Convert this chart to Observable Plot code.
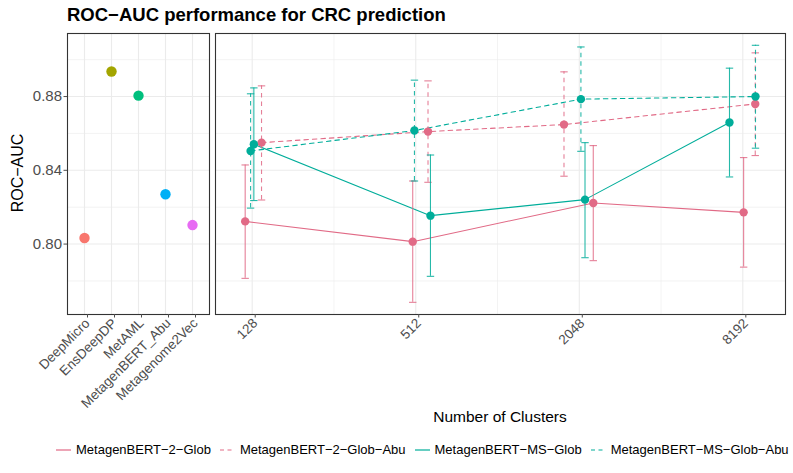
<!DOCTYPE html>
<html>
<head>
<meta charset="utf-8">
<script src="https://cdn.jsdelivr.net/npm/d3@7"></script>
<script src="https://cdn.jsdelivr.net/npm/@observablehq/plot@0.6"></script>
<style>
  html, body { margin: 0; padding: 0; background: #fff; }
  #wrap { position: relative; width: 793px; height: 473px; overflow: hidden; background: #fff;
          font-family: "Liberation Sans", Arial, Helvetica, sans-serif; }
  #title { position: absolute; left: 67px; top: 4px; font-weight: bold; font-size: 18.5px; color: #000; white-space: nowrap; }
  #ytitle { position: absolute; left: 18px; top: 173px; font-size: 16px; color: #000; white-space: nowrap;
            transform: translate(-50%, -50%) rotate(-90deg); }
  #xtitle { position: absolute; left: 500px; top: 417px; font-size: 15.5px; color: #000; white-space: nowrap;
            transform: translate(-50%, -50%); }
  #left { position: absolute; left: 0; top: 0; }
  #right { position: absolute; left: 212px; top: 0; }
  #legend { position: absolute; left: 55px; top: 442px; display: flex; align-items: center; white-space: nowrap;
            font-size: 13px; color: #000; }
  .item { display: flex; align-items: center; margin-right: 8px; }
  .item span { margin-left: 4px; }
</style>
</head>
<body>
<div id="wrap">
  <div id="title">ROC−AUC performance for CRC prediction</div>
  <div id="left"></div>
  <div id="right"></div>
  <div id="ytitle">ROC−AUC</div>
  <div id="xtitle">Number of Clusters</div>
  <div id="legend"></div>
</div>
<script>
// ---- Data ----
const methods = ["DeepMicro", "EnsDeepDP", "MetAML", "MetagenBERT_Abu", "Metagenome2Vec"];
const methodAuc = [0.8033, 0.8936, 0.8805, 0.827, 0.8103];

const clusters = [128, 512, 2048, 8192];
const seriesNames = ["MetagenBERT−2−Glob", "MetagenBERT−2−Glob−Abu", "MetagenBERT−MS−Glob", "MetagenBERT−MS−Glob−Abu"];

const auc2Glob   = [0.8123, 0.8013, 0.8223, 0.8172];
const lo2Glob    = [0.7814, 0.7684, 0.7910, 0.7875];
const hi2Glob    = [0.8429, 0.8342, 0.8534, 0.8469];
const jit2Glob   = [-0.086, -0.037, 0.171, 0.010];

const auc2GlobAbu = [0.8550, 0.8610, 0.8648, 0.8760];
const lo2GlobAbu  = [0.8239, 0.8335, 0.8368, 0.8480];
const hi2GlobAbu  = [0.8858, 0.8885, 0.8934, 0.9037];
const jit2GlobAbu = [0.114, 0.150, -0.187, 0.152];

const aucMSGlob = [0.8541, 0.8154, 0.8241, 0.8659];
const loMSGlob  = [0.8236, 0.7825, 0.7926, 0.8364];
const hiMSGlob  = [0.8847, 0.8483, 0.8550, 0.8954];
const jitMSGlob = [0.020, 0.180, 0.070, -0.163];

const aucMSGlobAbu = [0.8505, 0.8616, 0.8786, 0.8800];
const loMSGlobAbu  = [0.8195, 0.8342, 0.8503, 0.8520];
const hiMSGlobAbu  = [0.8815, 0.8889, 0.9069, 0.9078];
const jitMSGlobAbu = [-0.020, -0.016, 0.020, 0.155];

const yTicks = [0.80, 0.84, 0.88];
const yMinor = [0.78, 0.82, 0.86, 0.90];
const xMinor = [256, 1024, 4096];

// ---- Styles ----
const methodColors = ["#F8766D", "#A3A500", "#00BF7D", "#00B0F6", "#E76BF3"];
const pink = "#E16A86", teal = "#00AD9A";
const seriesStyle = [
  {color: pink, dash: null},
  {color: pink, dash: "4.5,4"},
  {color: teal, dash: null},
  {color: teal, dash: "4.5,4"}
];
const seriesData = [
  [auc2Glob, lo2Glob, hi2Glob, jit2Glob],
  [auc2GlobAbu, lo2GlobAbu, hi2GlobAbu, jit2GlobAbu],
  [aucMSGlob, loMSGlob, hiMSGlob, jitMSGlob],
  [aucMSGlobAbu, loMSGlobAbu, hiMSGlobAbu, jitMSGlobAbu]
];

const yDomain = [0.7618, 0.9142];
const font = "'Liberation Sans', Arial, Helvetica, sans-serif";
const gridCol = "#EBEBEB";
const tickCol = "#4D4D4D";

// ---- Left panel ----
const methodRows = methods.map((m, i) => ({method: m, auc: methodAuc[i]}));
const left = Plot.plot({
  width: 212, height: 410,
  marginLeft: 67, marginRight: 3, marginTop: 33, marginBottom: 96,
  style: {fontFamily: font, background: "transparent", overflow: "visible"},
  x: {type: "point", domain: methods, padding: 0.6},
  y: {domain: yDomain},
  color: {domain: methods, range: methodColors},
  marks: [
    Plot.ruleY(yMinor, {stroke: gridCol, strokeWidth: 0.6}),
    Plot.gridY(yTicks, {stroke: gridCol, strokeOpacity: 1, strokeWidth: 1.1}),
    Plot.gridX(methods, {stroke: gridCol, strokeOpacity: 1, strokeWidth: 1.1}),
    Plot.dot(methodRows, {x: "method", y: "auc", fill: "method", r: 5.2}),
    Plot.frame({stroke: "#333333", strokeWidth: 1.1}),
    Plot.axisY(yTicks, {tickSize: 3.5, tickPadding: 2, tickFormat: d3.format(".2f"), fontSize: 15, color: tickCol, label: null}),
    Plot.axisX(methods, {tickRotate: -45, tickSize: 3.5, tickPadding: 3, fontSize: 13.5, color: tickCol, label: null, dx: 3})
  ]
});
document.getElementById("left").appendChild(left);

// ---- Right panel ----
const capSymbol = {
  draw(ctx, size) {
    const r = Math.sqrt(size / Math.PI);
    ctx.moveTo(-r, 0);
    ctx.lineTo(r, 0);
  }
};
const rowsFor = s => clusters.map((c, i) => ({
  series: seriesNames[s],
  x: c * Math.pow(2, seriesData[s][3][i]),
  auc: seriesData[s][0][i],
  lo: seriesData[s][1][i],
  hi: seriesData[s][2][i]
}));
const lineMarks = [], barMarks = [], dotMarks = [];
seriesNames.forEach((name, s) => {
  const rows = rowsFor(s);
  const st = seriesStyle[s];
  lineMarks.push(Plot.line(rows, {x: "x", y: "auc", stroke: st.color, strokeWidth: 1.1, strokeDasharray: st.dash}));
  barMarks.push(Plot.ruleX(rows, {x: "x", y1: "lo", y2: "hi", stroke: st.color, strokeWidth: 1.1, strokeOpacity: 0.85, strokeDasharray: st.dash}));
  barMarks.push(Plot.dot(rows, {x: "x", y: "lo", symbol: capSymbol, r: 3.7, stroke: st.color, fill: "none", strokeWidth: 1.1, strokeOpacity: 0.85}));
  barMarks.push(Plot.dot(rows, {x: "x", y: "hi", symbol: capSymbol, r: 3.7, stroke: st.color, fill: "none", strokeWidth: 1.1, strokeOpacity: 0.85}));
  dotMarks.push(Plot.dot(rows, {x: "x", y: "auc", fill: st.color, r: 4.2}));
});

const right = Plot.plot({
  width: 581, height: 410,
  marginLeft: 3, marginRight: 8, marginTop: 33, marginBottom: 96,
  style: {fontFamily: font, background: "transparent", overflow: "visible"},
  x: {type: "log", base: 2, domain: [Math.pow(2, 6.551), Math.pow(2, 13.522)]},
  y: {domain: yDomain, axis: null},
  marks: [
    Plot.ruleY(yMinor, {stroke: gridCol, strokeWidth: 0.6}),
    Plot.ruleX(xMinor, {stroke: gridCol, strokeWidth: 0.6}),
    Plot.gridY(yTicks, {stroke: gridCol, strokeOpacity: 1, strokeWidth: 1.1}),
    Plot.gridX(clusters, {stroke: gridCol, strokeOpacity: 1, strokeWidth: 1.1}),
    ...lineMarks,
    ...barMarks,
    ...dotMarks,
    Plot.frame({stroke: "#333333", strokeWidth: 1.1}),
    Plot.axisX(clusters, {tickRotate: -45, tickSize: 3.5, tickPadding: 3, fontSize: 13.5, color: tickCol, label: null, dx: 3, tickFormat: d => String(d)})
  ]
});
document.getElementById("right").appendChild(right);

// ---- Legend ----
const legend = document.getElementById("legend");
seriesNames.forEach((name, s) => {
  const st = seriesStyle[s];
  const item = document.createElement("div");
  item.className = "item";
  item.innerHTML = `<svg width="17" height="12"><line x1="1" x2="16" y1="6" y2="6" stroke="${st.color}" stroke-width="1.2" ${st.dash ? `stroke-dasharray="4,3.5"` : ""}/></svg><span>${name}</span>`;
  legend.appendChild(item);
});
</script>
</body>
</html>
